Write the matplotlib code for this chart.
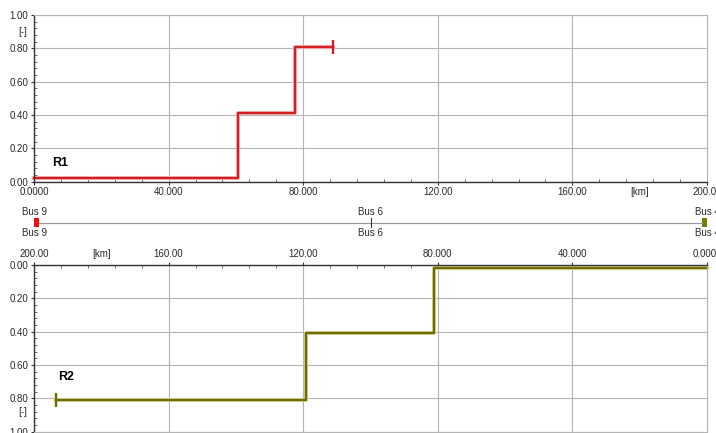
import numpy as np
import matplotlib
matplotlib.use("Agg")
import matplotlib.pyplot as plt
import matplotlib.patheffects as pe
from matplotlib.ticker import MultipleLocator

plt.rcParams['font.family'] = ['Liberation Sans', 'DejaVu Sans']
plt.rcParams['font.size'] = 7

# relay R1 seen from Bus 9, relay R2 seen from Bus 4 (km, p.u.)
r1_km  = [0.0, 60.6, 77.6, 88.9]
r1_val = [0.02, 0.41, 0.81, 0.81]
r2_km  = [0.0, 81.0, 119.2, 193.4]
r2_val = [0.02, 0.41, 0.81, 0.81]

bus_names = ["Bus 9", "Bus 6", "Bus 4"]
bus_km    = [0.0, 100.0, 200.0]

x_ticks  = [0, 40, 80, 120, 160, 200]
x_labels = ["0.0000", "40.000", "80.000", "120.00", "160.00", "200.00"]
y_ticks  = [0.0, 0.2, 0.4, 0.6, 0.8, 1.0]
y_labels = ["0.00", "0.20", "0.40", "0.60", "0.80", "1.00"]

W, H = 716, 433
fig = plt.figure(figsize=(W / 100, H / 100), dpi=100)
left, width, height = 34 / W, 673 / W, 166.7 / H

ax1 = fig.add_axes([left, 1 - 181.7 / H, width, height])
ax2 = fig.add_axes([left, 1 - 431.7 / H, width, height])
axm = fig.add_axes([left, 1 - 245 / H, width, 45 / H])

txt = '#2a2a2a'
grid_c = '#b4b4b4'


def style(ax):
  ax.set_xlim(0, 200)
  ax.set_ylim(0, 1)
  ax.set_xticks(x_ticks)
  ax.set_xticklabels(x_labels, color=txt)
  ax.set_yticks(y_ticks)
  ax.set_yticklabels(y_labels, color=txt)
  ax.xaxis.set_minor_locator(MultipleLocator(8))
  ax.yaxis.set_minor_locator(MultipleLocator(0.04))
  ax.tick_params(which='major', direction='out', length=2, width=0.8,
                 color='#333333', pad=2.0)
  ax.tick_params(which='minor', direction='in', length=2.5, width=0.6,
                 color='#555555')
  ax.grid(True, which='major', color=grid_c, lw=0.8)
  ax.set_axisbelow(True)
  for s in ax.spines.values():
    s.set_color(grid_c)
    s.set_linewidth(0.8)
  ax.spines['left'].set_color('#333333')
  ax.spines['left'].set_linewidth(1.0)


# upper diagram: R1
style(ax1)
ax1.spines['bottom'].set_color('#333333')
ax1.spines['bottom'].set_linewidth(1.0)
red = '#d11f24'
ax1.step(r1_km, r1_val, where='post', color=red, lw=1.7, clip_on=False,
         path_effects=[pe.Stroke(linewidth=3.0, foreground='#f4c4c4'), pe.Normal()])
ax1.plot(r1_km[-1], r1_val[-1], marker='|', ms=10, mew=1.7, color=red)
ax1.text(7.7, 0.11, "R1", fontsize=9, fontweight='bold', ha='center', va='center')
ax1.text(-0.017, 0.9, "[-]", transform=ax1.get_yaxis_transform(),
         ha='center', va='center', color=txt)
ax1.text(180, -0.062, "[km]", transform=ax1.get_xaxis_transform(),
         ha='center', va='center', color=txt)

# lower diagram: R2, reversed axes
style(ax2)
ax2.set_xlim(200, 0)
ax2.set_ylim(1, 0)
ax2.xaxis.tick_top()
ax2.xaxis.set_ticks_position('top')
ax2.spines['top'].set_color('#333333')
ax2.spines['top'].set_linewidth(1.0)
olive = '#6e6c00'
ax2.step(r2_km, r2_val, where='post', color=olive, lw=1.7, clip_on=False,
         path_effects=[pe.Stroke(linewidth=3.0, foreground='#e0dea8'), pe.Normal()])
ax2.plot(r2_km[-1], r2_val[-1], marker='|', ms=10, mew=1.7, color=olive)
ax2.text(190.6, 0.67, "R2", fontsize=9, fontweight='bold', ha='center', va='center')
ax2.text(-0.017, 0.88, "[-]", transform=ax2.get_yaxis_transform(),
         ha='center', va='center', color=txt)
ax2.text(180, 1.066, "[km]", transform=ax2.get_xaxis_transform(),
         ha='center', va='center', color=txt)

# bus strip between the diagrams
axm.set_xlim(0, 200)
axm.set_ylim(-1, 1)
axm.axis('off')
axm.plot([bus_km[0] + 1.5, bus_km[-1] - 1.5], [0, 0], color='#9a9a9a', lw=0.9)
axm.bar(bus_km[0], 0.38, width=1.5, bottom=-0.19, align='edge', color='#ee1111',
        clip_on=False)
axm.bar(bus_km[-1], 0.38, width=-1.5, bottom=-0.19, align='edge', color='#7a7a00',
        clip_on=False)
axm.plot([bus_km[1], bus_km[1]], [-0.19, 0.19], color='#333333', lw=0.8)
for name, km in zip(bus_names, bus_km):
  axm.text(km, 0.47, name, ha='center', va='center', color=txt, clip_on=False)
  axm.text(km, -0.45, name, ha='center', va='center', color=txt, clip_on=False)

fig.savefig("out.png", dpi=100)
